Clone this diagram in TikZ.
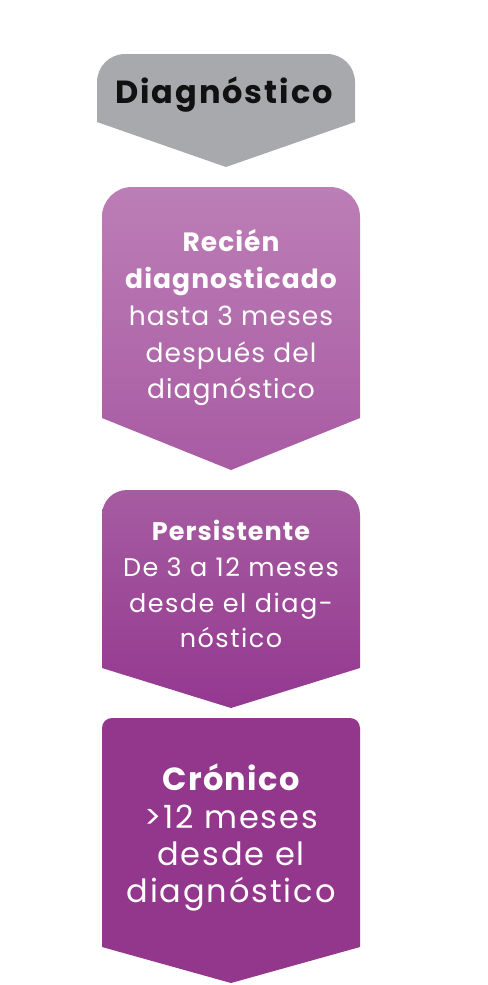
\documentclass[tikz,border=0pt]{standalone}
\usepackage{fontspec}
\setmainfont{Poppins}
\newfontfamily\widefont[LetterSpace=4]{Poppins}
\newfontfamily\widerfont[LetterSpace=6]{Poppins}
\definecolor{graybox}{HTML}{A7A9AC}
\definecolor{pA}{HTML}{BC7EB6}
\definecolor{pB}{HTML}{A85BA3}
\definecolor{pC}{HTML}{A65CA1}
\definecolor{pD}{HTML}{943890}
\definecolor{pE}{HTML}{93378D}
\definecolor{headtxt}{HTML}{111111}
\tikzset{
  txt/.style={inner sep=0pt, anchor=base, text=white},
  ttl/.style={txt, font=\widefont\bfseries\fontsize{26.5bp}{30bp}\selectfont},
  body/.style={txt, font=\widefont\fontsize{26.5bp}{30bp}\selectfont},
  ttlb/.style={txt, font=\widefont\bfseries\fontsize{25.5bp}{30bp}\selectfont},
  bodyb/.style={txt, font=\widerfont\fontsize{25.5bp}{30bp}\selectfont},
  ttlc/.style={txt, font=\widefont\bfseries\fontsize{32bp}{36bp}\selectfont},
  bodyc/.style={txt, font=\widerfont\fontsize{32bp}{36bp}\selectfont},
}
% pentagon arrow: L R top sidebottom tipy radius style
\newcommand{\chev}[7]{%
  \path[#7] (#1,-#4) -- (#1,-#3-#6) arc[start angle=180,end angle=90,radius=#6]
   -- (#2-#6,-#3) arc[start angle=90,end angle=0,radius=#6]
   -- (#2,-#4) -- ({(#1+#2)/2},-#5) -- cycle;}
\begin{document}
\begin{tikzpicture}[x=1bp,y=1bp]
\useasboundingbox (0,0) rectangle (488,-985);
\chev{97}{355}{54}{122}{167}{28}{fill=graybox}
\chev{102}{360}{187}{418}{470}{30}{top color=pA,bottom color=pB}
\chev{102}{360}{490}{668}{708}{25}{top color=pC,bottom color=pD}
\chev{102}{360}{718}{947}{983}{10}{fill=pE}

\node[txt, text=headtxt, font=\widerfont\bfseries\fontsize{32bp}{36bp}\selectfont] (t0) at (224,-103) {Diagnóstico};

\node[ttl] (a1) at (231,-251) {Recién};
\node[ttl] (a2) at (231,-288) {diagnosticado};
\node[body] (a3) at (231,-325) {hasta 3 meses};
\node[body] (a4) at (231,-362) {después del};
\node[body] (a5) at (231,-398) {diagnóstico};

\node[ttlb] (b1) at (231,-540) {Persistente};
\node[bodyb] (b2) at (231,-576) {De 3 a 12 meses};
\node[bodyb] (b3) at (231,-612) {desde el diag-};
\node[bodyb] (b4) at (231,-647) {nóstico};

\node[ttlc] (c1) at (231,-790) {Crónico};
\node[bodyc] (c2) at (231,-828) {>12 meses};
\node[bodyc] (c3) at (231,-865) {desde el};
\node[bodyc] (c4) at (231,-902) {diagnóstico};
\end{tikzpicture}
\end{document}
